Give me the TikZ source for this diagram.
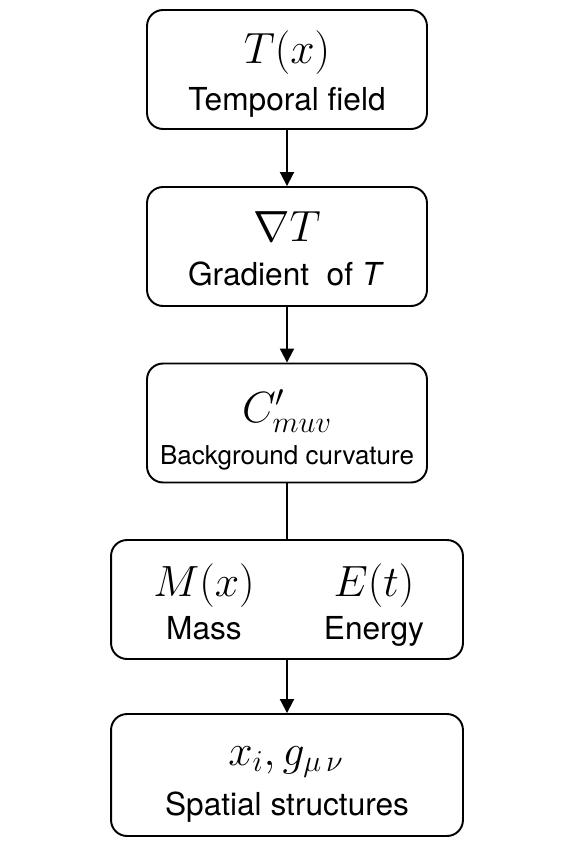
\documentclass[tikz,border=0pt]{standalone}
\usepackage{fontspec}
\setsansfont{TeX Gyre Heros}
\usepackage{tikz}
\usetikzlibrary{arrows.meta,positioning}
\tikzset{
    box/.style={draw, line width=1.1pt, rounded corners=0.32cm,
        minimum width=5.6cm, minimum height=2.38cm},
    wide box/.style={box, minimum width=7.04cm},
    sym/.style={anchor=base, inner sep=0pt, font=\fontsize{25}{30}\selectfont},
    caption/.style={anchor=base, inner sep=0pt, font=\sffamily\fontsize{18}{22}\selectfont},
    flow/.style={line width=1.1pt, -{Triangle[width=0.28cm,length=0.28cm]}},
    link/.style={line width=1.1pt}
}

\begin{document}
\begin{tikzpicture}[x=0.02cm,y=-0.02cm]
    \useasboundingbox (0,0) rectangle (575,862);
    % boxes
    \node [box] (temporal) at (287, 69.5) {};
    \node [box] (gradient) at (287, 246.5) {};
    \node [box] (curvature) at (287, 423) {};
    \node [wide box] (massenergy) at (287, 599.5) {};
    \node [wide box, minimum height=2.44cm] (spatial) at (287, 775) {};
    % texts
    \node [sym] (temporal-sym) at (287, 63) {$T(x)$};
    \node [caption] (temporal-txt) at (287, 110) {Temporal field};
    \node [sym] (gradient-sym) at (287, 241) {$\nabla T$};
    \node [caption] (gradient-txt) at (286, 285) {Gradient\ \ of \textit{T}};
    \node [sym] (curvature-sym) at (287, 422) {$C'_{muv}$};
    \node [caption, font=\sffamily\fontsize{14.8}{18}\selectfont] (curvature-txt) at (287, 464) {Background curvature};
    \node [sym] (mass-sym) at (204, 596) {$M(x)$};
    \node [caption] (mass-txt) at (204, 639) {Mass};
    \node [sym] (energy-sym) at (374, 596) {$E(t)$};
    \node [caption] (energy-txt) at (374, 639) {Energy};
    \node [sym] (spatial-sym) at (286, 765) {$x_i, g_{\mu\,\nu}$};
    \node [caption] (spatial-txt) at (287, 815) {Spatial structures};
    % connectors
    \draw [flow] (temporal) -- (gradient);
    \draw [flow] (gradient) -- (curvature);
    \draw [link] (curvature) -- (massenergy);
    \draw [flow] (massenergy) -- (spatial);
\end{tikzpicture}
\end{document}
